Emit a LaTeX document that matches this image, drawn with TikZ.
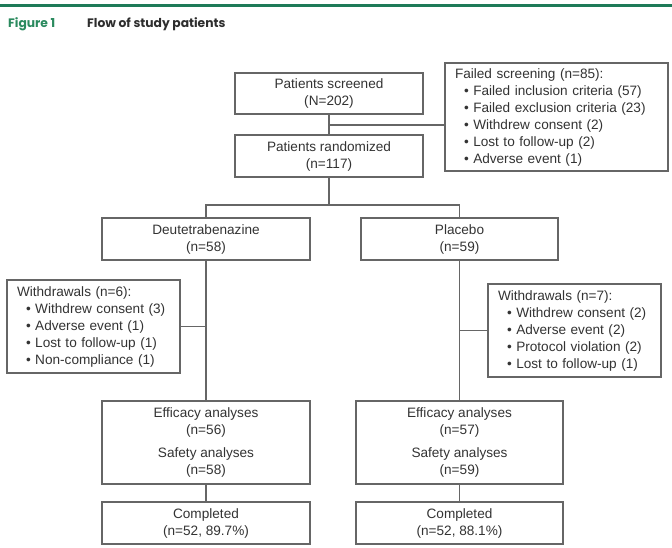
\documentclass[tikz,border=0pt]{standalone}
\usepackage{fontspec}
\setmainfont{Liberation Sans}
\newfontfamily\headfont{Poppins}
\definecolor{hgreen}{HTML}{1E7A58}
\definecolor{fgreen}{HTML}{2A8A5E}
\definecolor{htext}{HTML}{2E2E2E}
\definecolor{boxline}{HTML}{666666}
\definecolor{boxtext}{HTML}{333333}
\newcommand{\bitem}[1]{\\\hspace*{9pt}\textbullet\hspace{4.5pt}#1}
\begin{document}
\begin{tikzpicture}[x=1pt,y=-1pt,
  every node/.style={font=\fontsize{13.6}{17}\selectfont, text=boxtext},
  cbox/.style={draw=boxline, line width=1.25pt, align=center, inner sep=0pt, anchor=center},
  sbox/.style={draw=boxline, line width=1.25pt, align=left, inner xsep=10pt, inner ysep=0pt, anchor=center},
  conn/.style={draw=boxline, line width=1.25pt}]
\path[use as bounding box] (0,0) rectangle (672,547);
\fill[white] (0,0) rectangle (672,547);
% header
\draw[hgreen, line width=3pt] (0,5) -- (672,5);
\node[anchor=west, font=\headfont\bfseries\fontsize{12.3}{14}\selectfont, text=fgreen, inner sep=0pt] (fig) at (8,24.5) {Figure 1};
\node[anchor=west, font=\headfont\bfseries\fontsize{12.3}{14}\selectfont, text=htext, inner sep=0pt] (title) at (87,24.5) {Flow of study patients};
% boxes
\node[cbox, minimum width=188pt, minimum height=41pt] (scr) at (329,93.5) {Patients screened\\(N=202)};
\node[cbox, minimum width=188pt, minimum height=42pt] (rand) at (329,156) {Patients randomized\\(n=117)};
\node[sbox, minimum width=223pt, minimum height=108pt, text width=203pt] (fail) at (556.5,117) {Failed screening (n=85):\bitem{Failed inclusion criteria (57)}\bitem{Failed exclusion criteria (23)}\bitem{Withdrew consent (2)}\bitem{Lost to follow-up (2)}\bitem{Adverse event (1)}};
\node[cbox, minimum width=208pt, minimum height=42pt] (deut) at (206,239) {Deutetrabenazine\\(n=58)};
\node[cbox, minimum width=197pt, minimum height=42pt] (plac) at (459.5,239) {Placebo\\(n=59)};
\node[sbox, minimum width=173pt, minimum height=93pt, text width=153pt] (wdl) at (93.5,326.5) {Withdrawals (n=6):\bitem{Withdrew consent (3)}\bitem{Adverse event (1)}\bitem{Lost to follow-up (1)}\bitem{Non-compliance (1)}};
\node[sbox, minimum width=173pt, minimum height=93pt, text width=153pt] (wdr) at (574.5,330.5) {Withdrawals (n=7):\bitem{Withdrew consent (2)}\bitem{Adverse event (2)}\bitem{Protocol violation (2)}\bitem{Lost to follow-up (1)}};
\node[cbox, minimum width=208pt, minimum height=83pt] (effl) at (206,442.5) {Efficacy analyses\\(n=56)\\[6.5pt]Safety analyses\\(n=58)};
\node[cbox, minimum width=207pt, minimum height=83pt] (effr) at (459.5,442.5) {Efficacy analyses\\(n=57)\\[6.5pt]Safety analyses\\(n=59)};
\node[cbox, minimum width=208pt, minimum height=42pt] (compl) at (206,523) {Completed\\(n=52, 89.7\%)};
\node[cbox, minimum width=207pt, minimum height=42pt] (compr) at (459.5,523) {Completed\\(n=52, 88.1\%)};
% connectors
\coordinate (j1) at (329,125);
\coordinate (split) at (329,205);
\coordinate (jl) at (206,326.5);
\coordinate (jr) at (459.5,330.5);
\draw[conn] (scr.south) -- (rand.north);
\draw[conn] (j1) -- (j1 -| fail.west);
\draw[conn] (rand.south) -- (split);
\draw[conn] (deut.north) |- (split) -| (plac.north);
\draw[conn] (deut.south) -- (effl.north);
\draw[conn] (plac.south) -- (effr.north);
\draw[conn] (jl) -- (wdl.east);
\draw[conn] (jr) -- (wdr.west);
\draw[conn] (effl.south) -- (compl.north);
\draw[conn] (effr.south) -- (compr.north);
\end{tikzpicture}
\end{document}
